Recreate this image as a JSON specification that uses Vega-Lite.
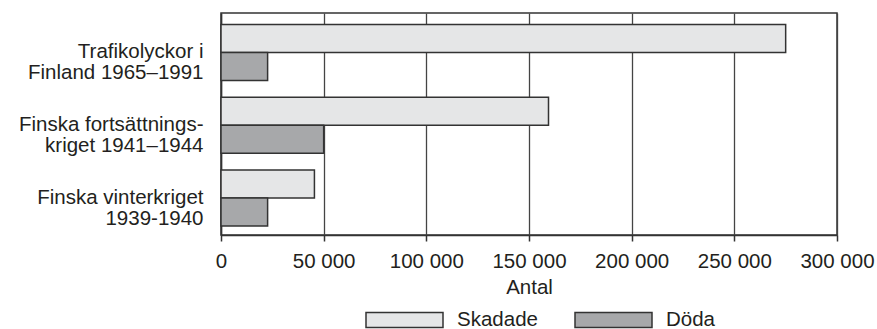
{
  "$schema": "https://vega.github.io/schema/vega-lite/v6.json",
  "width": 616,
  "height": 222,
  "autosize": {"type": "none"},
  "padding": {"left": 221, "top": 13, "right": 40, "bottom": 94},
  "background": "white",
  "config": {
    "font": "Liberation Sans",
    "view": {"stroke": "#333333", "strokeWidth": 1.5}
  },
  "data": {
    "values": [
      {"kategori": "Trafikolyckor i|Finland 1965–1991", "serie": "Skadade", "antal": 275000},
      {"kategori": "Trafikolyckor i|Finland 1965–1991", "serie": "Döda", "antal": 22700},
      {"kategori": "Finska fortsättnings-|kriget 1941–1944", "serie": "Skadade", "antal": 159500},
      {"kategori": "Finska fortsättnings-|kriget 1941–1944", "serie": "Döda", "antal": 50000},
      {"kategori": "Finska vinterkriget|1939-1940", "serie": "Skadade", "antal": 45500},
      {"kategori": "Finska vinterkriget|1939-1940", "serie": "Döda", "antal": 22700}
    ]
  },
  "mark": {"type": "bar", "stroke": "#333333", "strokeWidth": 1.5},
  "encoding": {
    "y": {
      "field": "kategori",
      "type": "nominal",
      "sort": null,
      "scale": {"paddingInner": 0.23, "paddingOuter": 0.14, "align": 0.56},
      "axis": {
        "title": null,
        "ticks": false,
        "labelPadding": 18,
        "labelFontSize": 20.5,
        "labelColor": "#231f20",
        "labelLineHeight": 21,
        "labelExpr": "split(datum.value, '|')",
        "labelLimit": 300,
        "domainColor": "#333333",
        "domainWidth": 1.5
      }
    },
    "yOffset": {
      "field": "serie",
      "sort": ["Skadade", "Döda"],
      "scale": {"paddingInner": 0, "paddingOuter": 0}
    },
    "x": {
      "field": "antal",
      "type": "quantitative",
      "scale": {"domain": [0, 300000], "nice": false},
      "axis": {
        "title": "Antal",
        "titleFontSize": 20.5,
        "titleFontWeight": "normal",
        "titleColor": "#231f20",
        "titlePadding": 6,
        "values": [0, 50000, 100000, 150000, 200000, 250000, 300000],
        "labelExpr": "replace(format(datum.value, ','), ',', ' ')",
        "labelFontSize": 20.5,
        "labelColor": "#231f20",
        "labelPadding": 10,
        "labelFlush": false,
        "tickSize": 6,
        "tickColor": "#333333",
        "tickWidth": 1.5,
        "domainColor": "#333333",
        "domainWidth": 1.5,
        "grid": true,
        "gridColor": "#444444",
        "gridWidth": 1.3,
        "gridOpacity": 1
      }
    },
    "color": {
      "field": "serie",
      "type": "nominal",
      "sort": ["Skadade", "Döda"],
      "scale": {"domain": ["Skadade", "Döda"], "range": ["#e5e6e7", "#a7a8aa"]},
      "legend": {
        "title": null,
        "orient": "none",
        "direction": "horizontal",
        "legendX": 144,
        "legendY": 267,
        "symbolType": "M-1,-0.195L1,-0.195L1,0.195L-1,0.195Z",
        "symbolSize": 5929,
        "symbolStrokeColor": "#333333",
        "symbolStrokeWidth": 1.5,
        "symbolOpacity": 1,
        "labelFontSize": 20.5,
        "labelColor": "#231f20",
        "labelOffset": 13,
        "columnPadding": 34
      }
    }
  }
}
